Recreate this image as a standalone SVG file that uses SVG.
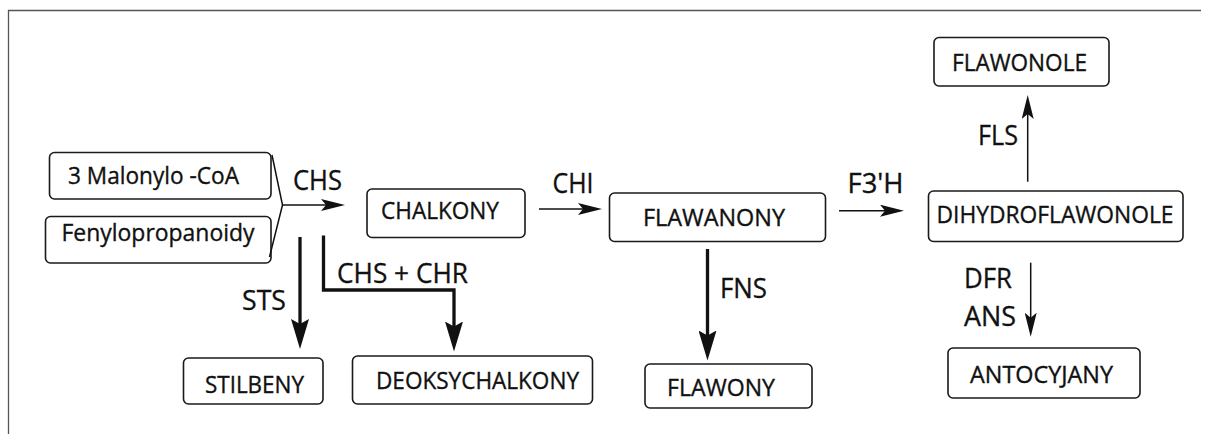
<svg xmlns="http://www.w3.org/2000/svg" width="1205" height="434" viewBox="0 0 1205 434">
<defs>
<style>
.box{fill:#fff;stroke:#1a1a1a;stroke-width:1.6}
.t{font-family:"Open Sans","Noto Sans",sans-serif;font-size:23.5px;fill:#111;stroke:#111;stroke-width:0.35}
.l{font-family:"Open Sans","Noto Sans",sans-serif;font-size:27.5px;fill:#111;stroke:#111;stroke-width:0.35}
.thin{fill:none;stroke:#111;stroke-width:1.5}
.thick{fill:none;stroke:#111;stroke-width:3.3}
.frame{fill:none;stroke:#555;stroke-width:1.3}
</style>
<marker id="ah" viewBox="0 0 24 12" refX="18" refY="6" markerWidth="24" markerHeight="12" markerUnits="userSpaceOnUse" orient="auto">
<path d="M0,0 L24,6 L0,12 L5,6 Z" fill="#111"/>
</marker>
<marker id="ahb" viewBox="0 0 30 18" refX="20" refY="9" markerWidth="30" markerHeight="18" markerUnits="userSpaceOnUse" orient="auto">
<path d="M0,0 L30,9 L0,18 L5,9 Z" fill="#111"/>
</marker>
</defs>
<path class="frame" d="M1201,10.5 H8.5 V434"/>
<g id="n-malonylo"><rect class="box" x="49.5" y="152.5" width="221.5" height="46.5" rx="5"/><text class="t" x="68" y="184" textLength="171" lengthAdjust="spacingAndGlyphs">3 Malonylo -CoA</text></g>
<g id="n-fenylo"><rect class="box" x="45.5" y="216.5" width="225.5" height="46.5" rx="5"/><text class="t" x="61.5" y="240.5" textLength="193" lengthAdjust="spacingAndGlyphs">Fenylopropanoidy</text></g>
<g id="n-chalkony"><rect class="box" x="367" y="189" width="158" height="48.5" rx="5"/><text class="t" x="381" y="219.3" textLength="118" lengthAdjust="spacingAndGlyphs">CHALKONY</text></g>
<g id="n-flawanony"><rect class="box" x="609.5" y="193" width="216" height="48.5" rx="5"/><text class="t" x="643" y="226" textLength="142" lengthAdjust="spacingAndGlyphs">FLAWANONY</text></g>
<g id="n-dihydro"><rect class="box" x="928.5" y="191" width="254.5" height="50.5" rx="5"/><text class="t" x="936.5" y="223.3" textLength="237" lengthAdjust="spacingAndGlyphs">DIHYDROFLAWONOLE</text></g>
<g id="n-flawonole"><rect class="box" x="934" y="37.5" width="175" height="48.5" rx="5"/><text class="t" x="952" y="70.7" textLength="135" lengthAdjust="spacingAndGlyphs">FLAWONOLE</text></g>
<g id="n-antocyjany"><rect class="box" x="948" y="348" width="192" height="50" rx="5"/><text class="t" x="970" y="383.3" textLength="143" lengthAdjust="spacingAndGlyphs">ANTOCYJANY</text></g>
<g id="n-stilbeny"><rect class="box" x="183.5" y="358" width="139.5" height="46" rx="5"/><text class="t" x="205" y="392.7" textLength="99" lengthAdjust="spacingAndGlyphs">STILBENY</text></g>
<g id="n-deoksy"><rect class="box" x="352.5" y="356" width="240" height="48" rx="5"/><text class="t" x="376" y="389.3" textLength="203" lengthAdjust="spacingAndGlyphs">DEOKSYCHALKONY</text></g>
<g id="n-flawony"><rect class="box" x="645" y="364" width="167" height="44" rx="5"/><text class="t" x="667" y="395.7" textLength="108" lengthAdjust="spacingAndGlyphs">FLAWONY</text></g>
<g id="connectors">
<path class="thin" d="M272,155 L282.5,205 L269.5,257"/>
<path class="thin" d="M282.5,205 H339" marker-end="url(#ah)"/>
<text class="l" x="293" y="190" textLength="49" lengthAdjust="spacingAndGlyphs">CHS</text>
<path class="thick" d="M300,237 V339" marker-end="url(#ahb)"/>
<text class="l" x="242" y="310" textLength="44" lengthAdjust="spacingAndGlyphs">STS</text>
<path class="thick" d="M323.5,235.5 V290 H454 V341.5" marker-end="url(#ahb)"/>
<text class="l" x="337" y="282.7" textLength="131" lengthAdjust="spacingAndGlyphs">CHS + CHR</text>
<path class="thin" d="M539,209 H596" marker-end="url(#ah)"/>
<text class="l" x="552.5" y="192.7" textLength="41" lengthAdjust="spacingAndGlyphs">CHI</text>
<path class="thick" d="M707.5,249 V350.5" marker-end="url(#ahb)"/>
<text class="l" x="720" y="297.7" textLength="47" lengthAdjust="spacingAndGlyphs">FNS</text>
<path class="thin" d="M839,210.7 H898" marker-end="url(#ah)"/>
<text class="l" x="847.5" y="193.3" textLength="56" lengthAdjust="spacingAndGlyphs">F3'H</text>
<path class="thin" d="M1027.7,181.7 V101" marker-end="url(#ah)"/>
<text class="l" x="978" y="145" textLength="40" lengthAdjust="spacingAndGlyphs">FLS</text>
<path class="thin" d="M1030.7,262.7 V330.7" marker-end="url(#ah)"/>
<text class="l" x="964" y="288.3" textLength="48" lengthAdjust="spacingAndGlyphs">DFR</text>
<text class="l" x="964" y="326" textLength="52" lengthAdjust="spacingAndGlyphs">ANS</text>
</g>
</svg>
